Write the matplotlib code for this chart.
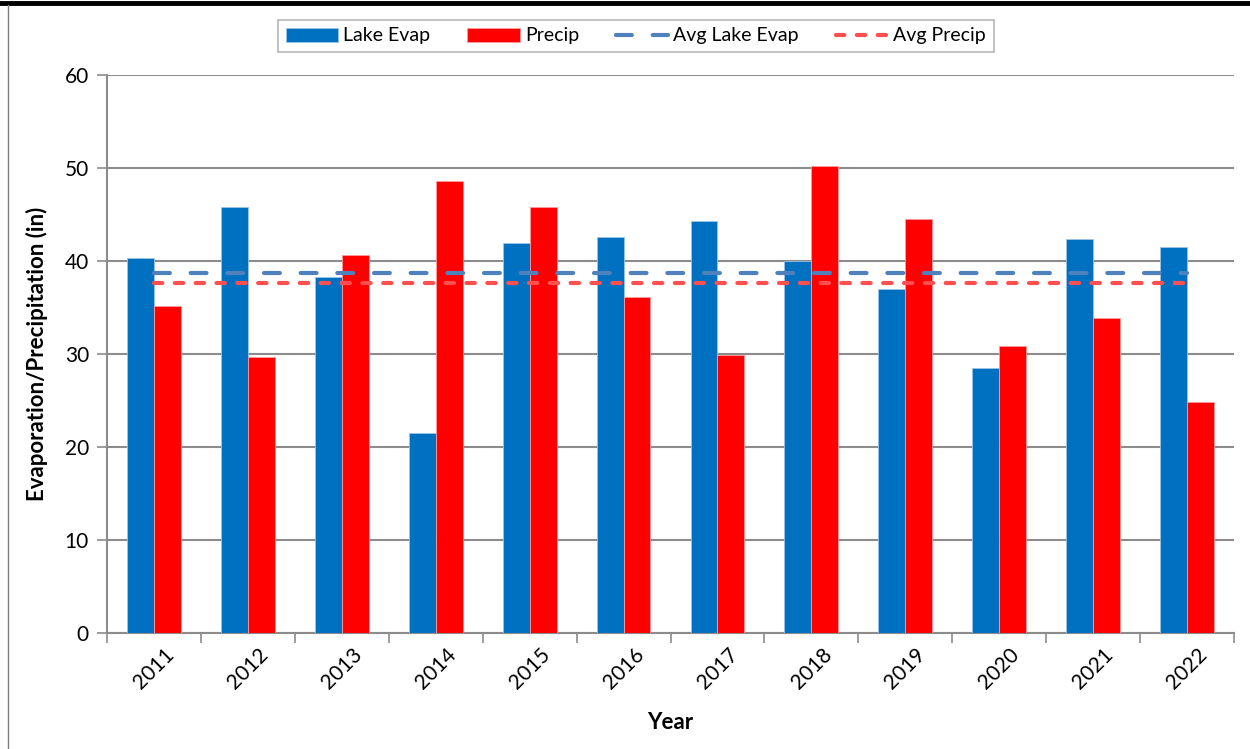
#lake evaporation vs precipitation, grouped bars with average lines

import numpy
import matplotlib
matplotlib.use('Agg')
import matplotlib.pyplot as plt
from matplotlib.lines import Line2D

plt.rcParams['font.family'] = ['Lato', 'DejaVu Sans']

#data (inches)
years = ['2011', '2012', '2013', '2014', '2015', '2016',
         '2017', '2018', '2019', '2020', '2021', '2022']
lake_evap = [40.3, 45.8, 38.3, 21.5, 41.9, 42.6, 44.3, 40.0, 37.0, 28.5, 42.4, 41.5]
precip = [35.2, 29.7, 40.6, 48.6, 45.8, 36.1, 29.9, 50.2, 44.5, 30.9, 33.9, 24.8]
avg_lake_evap = 38.7
avg_precip = 37.6

blue = '#0070C0'
red = '#FF0000'
avg_blue = '#4F81BD'
avg_red = '#FF4F4F'
grid_col = '#8C8C8C'

fig = plt.figure(figsize=(12.5, 7.49), dpi=100)
ax = fig.add_axes([107/1250., 1 - 633/749., (1234 - 107)/1250., (633 - 75)/749.])

x = numpy.arange(len(years))
w = 0.287
b1 = ax.bar(x - w/2, lake_evap, w, color=blue, edgecolor='#9CC3E6', linewidth=0.6,
            label='Lake Evap', zorder=3)
b2 = ax.bar(x + w/2, precip, w, color=red, edgecolor='#FF9C9C', linewidth=0.6,
            label='Precip', zorder=3)

#average lines run from the first category centre to the last
l1, = ax.plot(x, [avg_lake_evap]*len(x), color=avg_blue, lw=3.0, dashes=(3.8, 5.0),
              dash_capstyle='round', label='Avg Lake Evap', zorder=4)
l2, = ax.plot(x, [avg_precip]*len(x), color=avg_red, lw=3.0, dashes=(2.0, 3.0),
              dash_capstyle='round', label='Avg Precip', zorder=4)

ax.set_xlim(-0.5, len(years) - 0.5)
ax.set_ylim(0, 60)
ax.set_yticks(numpy.arange(0, 61, 10))
ax.yaxis.grid(True, color=grid_col, lw=1.5, zorder=0)
ax.set_axisbelow(True)

#x ticks between categories, labels at centres
ax.set_xticks(x)
ax.set_xticklabels(years, rotation=45, fontsize=15)
ax.set_xticks(numpy.arange(-0.5, len(years), 1.0), minor=True)
ax.tick_params(axis='x', which='major', length=0, pad=8)
ax.tick_params(axis='x', which='minor', length=7, color=grid_col, width=1.2)
ax.tick_params(axis='y', length=7, color=grid_col, width=1.2, labelsize=15, pad=6)

for s in ['top', 'right']:
    ax.spines[s].set_visible(False)
for s in ['left', 'bottom']:
    ax.spines[s].set_color(grid_col)
    ax.spines[s].set_linewidth(1.5)

ax.set_xlabel('Year', fontsize=16, fontweight='bold', labelpad=14)
ax.set_ylabel('Evaporation/Precipitation (in)', fontsize=16, fontweight='bold', labelpad=12)

leg = fig.legend([b1, b2, l1, l2], ['Lake Evap', 'Precip', 'Avg Lake Evap', 'Avg Precip'],
                 loc='center', bbox_to_anchor=(636/1250., 1 - 36/749.), ncol=4,
                 fontsize=14, frameon=True, fancybox=False, edgecolor='#A6A6A6',
                 handlelength=2.7, handletextpad=0.25, columnspacing=1.9, borderpad=0.4)
leg.get_frame().set_linewidth(1.2)

#outer frame pieces of the original image
fig.add_artist(Line2D([0, 1], [1 - 2.5/749., 1 - 2.5/749.], color='black', lw=3.5,
                      transform=fig.transFigure))
fig.add_artist(Line2D([8/1250., 8/1250.], [0, 1 - 5/749.], color='#7F7F7F', lw=1.0,
                      transform=fig.transFigure))

fig.savefig('out.png', dpi=100)
